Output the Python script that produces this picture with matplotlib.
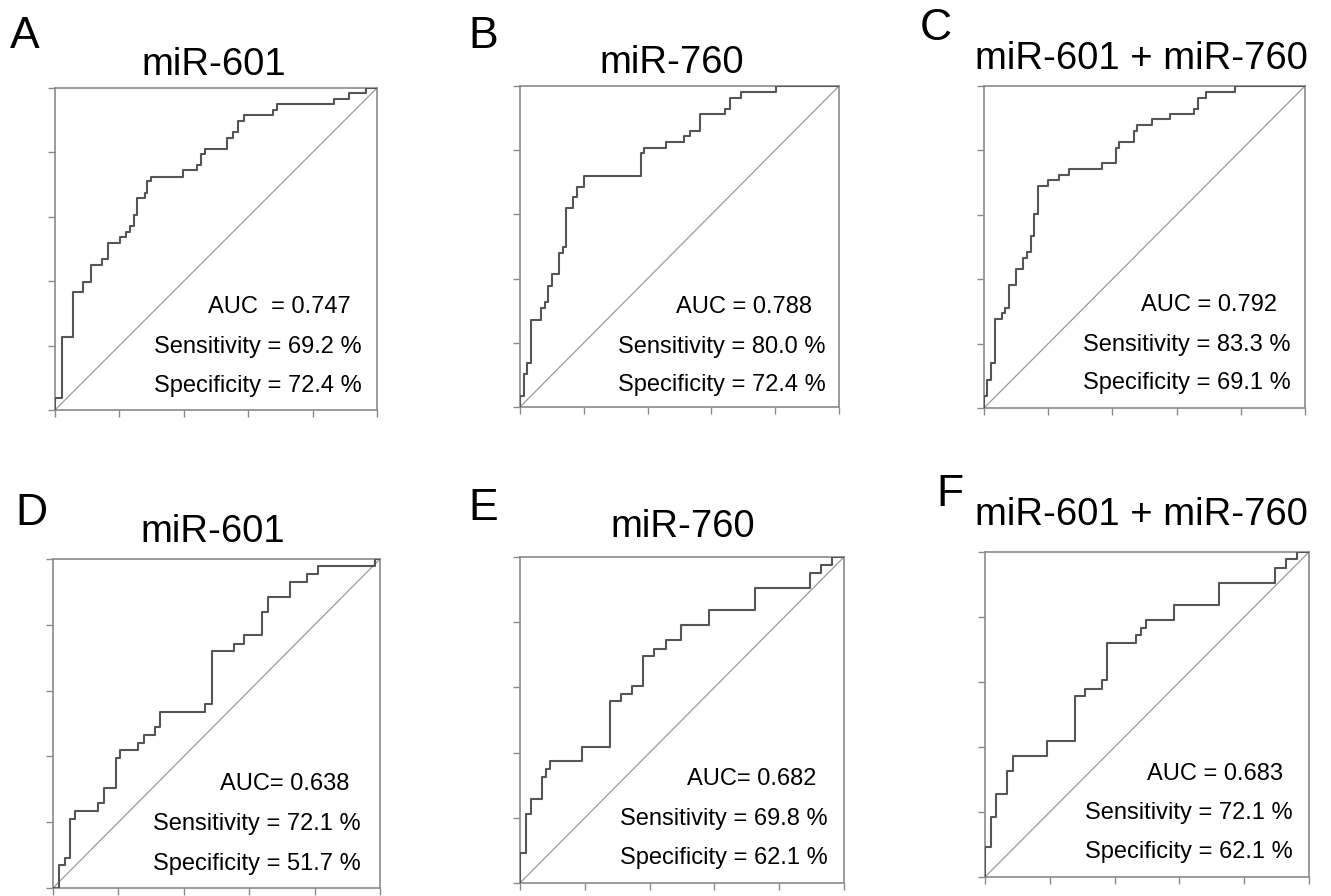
import matplotlib
matplotlib.use("Agg")
import matplotlib.pyplot as plt

plt.rcParams['font.family'] = ['Liberation Sans', 'DejaVu Sans']

W, H = 1331, 896

# ---- data ----
panel_letters = ["A", "B", "C", "D", "E", "F"]
titles = ["miR-601", "miR-760", "miR-601 + miR-760",
          "miR-601", "miR-760", "miR-601 + miR-760"]
auc_labels = ["AUC  = 0.747", "AUC = 0.788", "AUC = 0.792",
              "AUC= 0.638", "AUC= 0.682", "AUC = 0.683"]
sens_labels = ["Sensitivity = 69.2 %", "Sensitivity = 80.0 %", "Sensitivity = 83.3 %",
               "Sensitivity = 72.1 %", "Sensitivity = 69.8 %", "Sensitivity = 72.1 %"]
spec_labels = ["Specificity = 72.4 %", "Specificity = 72.4 %", "Specificity = 69.1 %",
               "Specificity = 51.7 %", "Specificity = 62.1 %", "Specificity = 62.1 %"]

fpr_A = [0, 0.023, 0.057, 0.088, 0.111, 0.145, 0.166, 0.202, 0.221, 0.233, 0.244, 0.254,
         0.280, 0.287, 0.297, 0.399, 0.442, 0.454, 0.466, 0.534, 0.552, 0.567, 0.588,
         0.676, 0.689, 0.867, 0.912, 0.967]
tpr_A = [0.036, 0.226, 0.365, 0.399, 0.451, 0.468, 0.520, 0.537, 0.554, 0.572, 0.606, 0.658,
         0.674, 0.710, 0.725, 0.744, 0.762, 0.796, 0.811, 0.845, 0.863, 0.898, 0.917,
         0.933, 0.950, 0.967, 0.984, 1.0]

fpr_B = [0, 0.013, 0.021, 0.034, 0.066, 0.078, 0.089, 0.099, 0.122, 0.134, 0.144, 0.167,
         0.180, 0.200, 0.379, 0.389, 0.457, 0.514, 0.532, 0.564, 0.644, 0.658, 0.692, 0.801]
tpr_B = [0.033, 0.102, 0.137, 0.272, 0.309, 0.327, 0.376, 0.414, 0.480, 0.499, 0.619, 0.653,
         0.686, 0.720, 0.792, 0.808, 0.826, 0.844, 0.861, 0.913, 0.928, 0.964, 0.980, 1.0]

fpr_C = [0, 0.010, 0.022, 0.034, 0.055, 0.065, 0.079, 0.100, 0.123, 0.133, 0.145, 0.156,
         0.167, 0.200, 0.235, 0.266, 0.369, 0.411, 0.422, 0.468, 0.478, 0.524, 0.579,
         0.655, 0.668, 0.692, 0.782]
tpr_C = [0.036, 0.088, 0.140, 0.275, 0.295, 0.312, 0.381, 0.431, 0.467, 0.485, 0.535, 0.604,
         0.689, 0.708, 0.723, 0.742, 0.760, 0.809, 0.827, 0.861, 0.879, 0.896, 0.913,
         0.928, 0.964, 0.980, 1.0]

fpr_D = [0.018, 0.036, 0.053, 0.068, 0.138, 0.155, 0.192, 0.206, 0.260, 0.278, 0.313, 0.327,
         0.466, 0.485, 0.553, 0.584, 0.640, 0.656, 0.724, 0.778, 0.811, 0.985]
tpr_D = [0.069, 0.091, 0.209, 0.233, 0.257, 0.304, 0.396, 0.419, 0.442, 0.465, 0.488, 0.535,
         0.559, 0.721, 0.743, 0.769, 0.838, 0.883, 0.931, 0.954, 0.979, 1.0]

fpr_E = [0, 0.019, 0.034, 0.069, 0.079, 0.092, 0.192, 0.277, 0.311, 0.346, 0.380, 0.414,
         0.450, 0.498, 0.584, 0.725, 0.894, 0.928, 0.963]
tpr_E = [0.092, 0.211, 0.257, 0.325, 0.349, 0.373, 0.417, 0.557, 0.581, 0.604, 0.695, 0.719,
         0.744, 0.790, 0.836, 0.905, 0.952, 0.974, 1.0]

fpr_F = [0, 0.019, 0.034, 0.069, 0.085, 0.190, 0.277, 0.310, 0.362, 0.378, 0.465, 0.483,
         0.498, 0.584, 0.722, 0.894, 0.928, 0.963]
tpr_F = [0.092, 0.185, 0.256, 0.325, 0.371, 0.418, 0.557, 0.579, 0.605, 0.721, 0.744, 0.767,
         0.790, 0.836, 0.905, 0.952, 0.977, 1.0]

ticks = [0, 0.2, 0.4, 0.6, 0.8, 1.0]

curves = [(fpr_A, tpr_A), (fpr_B, tpr_B), (fpr_C, tpr_C),
          (fpr_D, tpr_D), (fpr_E, tpr_E), (fpr_F, tpr_F)]

# ---- layout (pixels: left, top, right, bottom) ----
axes_px = [(55, 88, 377, 410), (520, 86, 839, 407), (984, 86, 1305, 408),
           (53, 559, 380, 888), (520, 557, 844, 883), (985, 552, 1309, 877)]
letter_px = [(10, 48), (468, 48), (920, 40), (15, 525), (468, 520), (936, 506)]
title_px = [(214, 75), (672, 73), (1141, 69), (213, 542), (683, 537), (1141, 525)]
auc_px = [(208, 313), (676, 313), (1141, 311), (220, 790), (687, 785), (1147, 780)]
sens_px = [(154, 353), (618, 353), (1083, 351), (153, 830), (620, 825), (1085, 819)]
spec_px = [(154, 392), (618, 391), (1083, 389), (153, 870), (620, 864), (1085, 858)]

frame_col = "#8a8a8a"
curve_col = "#555555"
diag_col = "#9a9a9a"

fig = plt.figure(figsize=(W / 100, H / 100), dpi=100)
fig.patch.set_facecolor("white")

def fx(x):
    return x / W

def fy(y):
    return 1 - y / H

for i in range(6):
    l, t, r, b = axes_px[i]
    ax = fig.add_axes([fx(l), fy(b), (r - l) / W, (b - t) / H])
    fpr, tpr = curves[i]
    xs = [0] + list(fpr) + [1]
    ys = [0] + list(tpr) + [1]
    ax.step(xs, ys, where="post", color=curve_col, lw=1.5, zorder=3)
    ax.plot([0, 1], [0, 1], color=diag_col, lw=0.9, zorder=2)
    ax.set_xlim(0, 1)
    ax.set_ylim(0, 1)
    ax.set_xticks(ticks)
    ax.set_yticks(ticks)
    ax.set_xticklabels([])
    ax.set_yticklabels([])
    ax.tick_params(direction="out", length=5, width=1.0, color=frame_col)
    for s in ax.spines.values():
        s.set_color(frame_col)
        s.set_linewidth(1.2)

    fig.text(fx(letter_px[i][0]), fy(letter_px[i][1]), panel_letters[i],
             fontsize=32, ha="left", va="baseline", color="black")
    fig.text(fx(title_px[i][0]), fy(title_px[i][1]), titles[i],
             fontsize=27.5, ha="center", va="baseline", color="black")
    fig.text(fx(auc_px[i][0]), fy(auc_px[i][1]), auc_labels[i],
             fontsize=17, ha="left", va="baseline", color="black")
    fig.text(fx(sens_px[i][0]), fy(sens_px[i][1]), sens_labels[i],
             fontsize=17, ha="left", va="baseline", color="black")
    fig.text(fx(spec_px[i][0]), fy(spec_px[i][1]), spec_labels[i],
             fontsize=17, ha="left", va="baseline", color="black")

fig.savefig("out.png", dpi=100, facecolor="white")
